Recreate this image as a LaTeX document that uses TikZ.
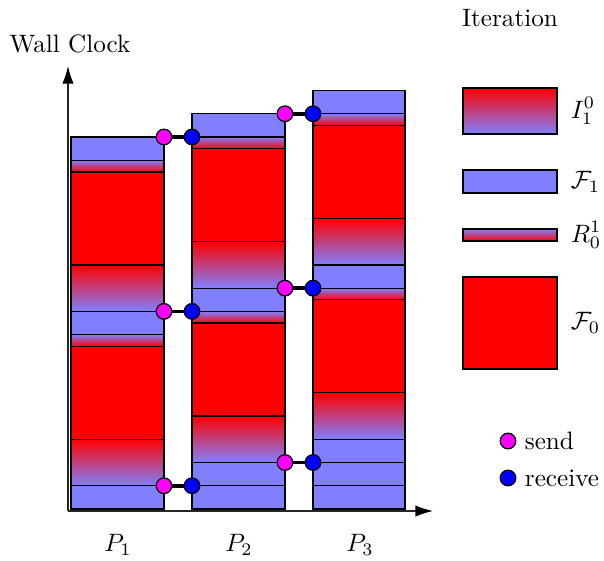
\documentclass[tikz,border=0pt]{standalone}
\usetikzlibrary{arrows.meta}
\definecolor{sendc}{RGB}{255,0,255}
\definecolor{recvc}{RGB}{0,0,255}
\definecolor{lblue}{RGB}{128,128,255}
\definecolor{fred}{RGB}{255,0,0}
\begin{document}
\begin{tikzpicture}[x=0.3975pt,y=-0.3975pt,
  fone/.style={draw=black,line width=0.5pt,fill=lblue},
  fzero/.style={draw=black,line width=0.5pt,fill=fred},
  iblk/.style={draw=black,line width=0.5pt,top color=fred,bottom color=lblue},
  rblk/.style={draw=black,line width=0.5pt,top color=lblue,bottom color=fred},
  sendpt/.style={circle,draw=black,line width=0.5pt,fill=sendc,minimum size=6.2pt,inner sep=0pt},
  recvpt/.style={circle,draw=black,line width=0.5pt,fill=recvc,minimum size=6.2pt,inner sep=0pt},
  msg/.style={line width=1.4pt,black},
  axis/.style={line width=0.5pt,black!85,-{Latex[length=7pt,width=4.5pt,fill=black,color=black]}}]
\useasboundingbox (0,0) rectangle (604,561);
% ---- column P1 (x 71..164)
\path[fone]  (71,509) rectangle (164,485.75);
\path[iblk]  (71,485.75) rectangle (164,439.25);
\path[fzero] (71,439.25) rectangle (164,346.25);
\path[rblk]  (71,346.25) rectangle (164,334.625);
\path[fone]  (71,334.625) rectangle (164,311.375);
\path[iblk]  (71,311.375) rectangle (164,264.875);
\path[fzero] (71,264.875) rectangle (164,171.875);
\path[rblk]  (71,171.875) rectangle (164,160.25);
\path[fone]  (71,160.25) rectangle (164,137);
% ---- column P2 (x 192..285)
\path[fone]  (192,509) rectangle (285,485.75);
\path[fone]  (192,485.75) rectangle (285,462.5);
\path[iblk]  (192,462.5) rectangle (285,416);
\path[fzero] (192,416) rectangle (285,323);
\path[rblk]  (192,323) rectangle (285,311.375);
\path[fone]  (192,311.375) rectangle (285,288.125);
\path[iblk]  (192,288.125) rectangle (285,241.625);
\path[fzero] (192,241.625) rectangle (285,148.625);
\path[rblk]  (192,148.625) rectangle (285,137);
\path[fone]  (192,137) rectangle (285,113.75);
% ---- column P3 (x 313..405)
\path[fone]  (313,509) rectangle (405,485.75);
\path[fone]  (313,485.75) rectangle (405,462.5);
\path[fone]  (313,462.5) rectangle (405,439.25);
\path[iblk]  (313,439.25) rectangle (405,392.75);
\path[fzero] (313,392.75) rectangle (405,299.75);
\path[rblk]  (313,299.75) rectangle (405,288.125);
\path[fone]  (313,288.125) rectangle (405,264.875);
\path[iblk]  (313,264.875) rectangle (405,218.375);
\path[fzero] (313,218.375) rectangle (405,125.375);
\path[rblk]  (313,125.375) rectangle (405,113.75);
\path[fone]  (313,113.75) rectangle (405,90.5);
% ---- axes
\coordinate (o) at (68,511);
\coordinate (ytop) at (68,66);
\coordinate (xend) at (433,511);
\draw[axis] (o) -- (ytop);
\draw[axis] (o) -- (xend);
\node (wall) at (70,44) {Wall Clock};
\node (p1) at (118,545) {$P_1$};
\node (p2) at (239,545) {$P_2$};
\node (p3) at (360,545) {$P_3$};
% ---- messages
\node[sendpt] (s1a) at (164,137) {};
\node[recvpt] (r1a) at (192,137) {};
\node[sendpt] (s1b) at (164,311.375) {};
\node[recvpt] (r1b) at (192,311.375) {};
\node[sendpt] (s1c) at (164,485.75) {};
\node[recvpt] (r1c) at (192,485.75) {};
\node[sendpt] (s2a) at (285,113.75) {};
\node[recvpt] (r2a) at (313,113.75) {};
\node[sendpt] (s2b) at (285,288.125) {};
\node[recvpt] (r2b) at (313,288.125) {};
\node[sendpt] (s2c) at (285,462.5) {};
\node[recvpt] (r2c) at (313,462.5) {};
\foreach \a/\b in {s1a/r1a,s1b/r1b,s1c/r1c,s2a/r2a,s2b/r2b,s2c/r2c}
  \draw[msg] (\a) -- (\b);
% ---- legend
\node (iter) at (510,18) {Iteration};
\path[iblk]  (463,88) rectangle (557,134);
\node[anchor=west] (li) at (562,111) {$I_1^0$};
\path[fone]  (463,170) rectangle (557,193);
\node[anchor=west] (lf1) at (562,182) {$\mathcal{F}_1$};
\path[rblk]  (463,229) rectangle (557,241);
\node[anchor=west] (lr) at (562,235) {$R_0^1$};
\path[fzero] (463,277) rectangle (557,369);
\node[anchor=west] (lf0) at (562,323) {$\mathcal{F}_0$};
\node[sendpt] (ls) at (508,441) {};
\node[anchor=west] (lst) at (516,441) {send};
\node[recvpt] (lr2) at (508,478) {};
\node[anchor=west] (lrt) at (516,478) {receive};
\end{tikzpicture}
\end{document}
